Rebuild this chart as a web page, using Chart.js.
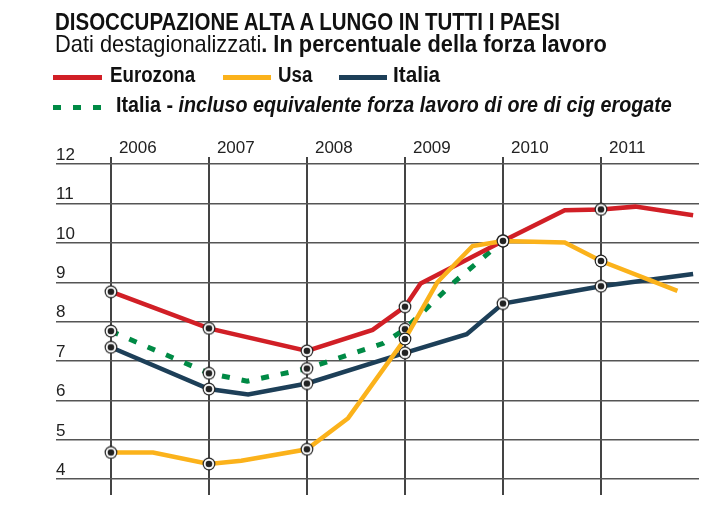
<!DOCTYPE html>
<html>
<head>
<meta charset="utf-8">
<script src="https://cdn.jsdelivr.net/npm/chart.js@4/dist/chart.umd.min.js"></script>
<style>
  body { margin: 0; background: #fff; }
  #wrap { position: relative; width: 723px; height: 517px; overflow: hidden;
          font-family: "Liberation Sans", Arial, sans-serif; color: #111; }
  canvas { position: absolute; left: 0; top: 0; }
  .t { position: absolute; white-space: nowrap; transform-origin: 0 0; line-height: 1; }
  .sw { position: absolute; height: 5px; }
</style>
</head>
<body>
<div id="wrap">
  <canvas id="chart" width="723" height="517"></canvas>
  <div class="t" data-w="505" style="left:55px;top:10px;font-size:24px;font-weight:bold">DISOCCUPAZIONE ALTA A LUNGO IN TUTTI I PAESI</div>
  <div class="t" data-w="552" style="left:55px;top:32px;font-size:24px">Dati destagionalizzati<b>. In percentuale della forza lavoro</b></div>

  <div class="sw" style="left:53px;top:75px;width:49px;background:#d11f26"></div>
  <div class="t" data-w="85" style="left:110px;top:64px;font-size:22px;font-weight:bold">Eurozona</div>
  <div class="sw" style="left:223px;top:75px;width:48px;background:#fbb21b"></div>
  <div class="t" data-w="34" style="left:278px;top:64px;font-size:22px;font-weight:bold">Usa</div>
  <div class="sw" style="left:339px;top:75px;width:48px;background:#1d3f58"></div>
  <div class="t" data-w="47" style="left:393px;top:64px;font-size:22px;font-weight:bold">Italia</div>

  <div class="sw" style="left:53px;top:105px;width:8px;background:#008a45"></div>
  <div class="sw" style="left:73px;top:105px;width:8px;background:#008a45"></div>
  <div class="sw" style="left:93px;top:105px;width:8px;background:#008a45"></div>
  <div class="t" data-w="556" style="left:116px;top:94px;font-size:22px;font-weight:bold">Italia - <i>incluso equivalente forza lavoro di ore di cig erogate</i></div>
</div>

<script>
// header text squeezed to the widths measured on the picture
document.querySelectorAll('.t').forEach(el => {
  const w = +el.dataset.w
  el.style.transform = 'scaleX(' + (w / el.offsetWidth) + ')'
})

const years = [2006, 2007, 2008, 2009, 2010, 2011]
const yTicks = [4, 5, 6, 7, 8, 9, 10, 11, 12]

const eurozonaX = [2006, 2007, 2008, 2008.67, 2009, 2009.16, 2010, 2010.63, 2011, 2011.35, 2011.94]
const eurozonaY = [8.76, 7.83, 7.26, 7.79, 8.38, 8.97, 10.05, 10.83, 10.85, 10.92, 10.7]

const usaX = [2006, 2006.43, 2007, 2007.33, 2008, 2008.42, 2009, 2009.33, 2009.69, 2010, 2010.63, 2011, 2011.78]
const usaY = [4.68, 4.68, 4.39, 4.47, 4.76, 5.55, 7.56, 9.0, 9.92, 10.05, 10.01, 9.54, 8.78]

const italiaX = [2006, 2007, 2007.4, 2008, 2009, 2009.63, 2010, 2011, 2011.94]
const italiaY = [7.35, 6.29, 6.15, 6.43, 7.21, 7.68, 8.46, 8.9, 9.21]

const italiaCigX = [2006, 2007, 2007.39, 2008, 2008.78, 2009, 2009.5, 2010]
const italiaCigY = [7.76, 6.69, 6.49, 6.81, 7.45, 7.81, 9.0, 10.05]

const fontFamily = '"Liberation Sans", Arial, sans-serif'

function pairs(xs, ys) {
  return xs.map((x, i) => ({ x: x, y: ys[i] }))
}

// ringed dot used at each year
function makeMarker() {
  const m = document.createElement('canvas')
  m.width = 14
  m.height = 14
  const g = m.getContext('2d')
  g.beginPath(); g.arc(7, 7, 6.4, 0, Math.PI * 2); g.fillStyle = '#222'; g.fill()
  g.beginPath(); g.arc(7, 7, 5.2, 0, Math.PI * 2); g.fillStyle = '#fff'; g.fill()
  g.beginPath(); g.arc(7, 7, 3.3, 0, Math.PI * 2); g.fillStyle = '#222'; g.fill()
  return m
}
const marker = makeMarker()

function onYear(ctx) {
  return ctx.raw && Number.isInteger(ctx.raw.x) ? 6 : 0
}

function series(label, xs, ys, color, dash) {
  return {
    label: label,
    data: pairs(xs, ys),
    borderColor: color,
    borderWidth: dash ? 5 : 4.5,
    borderDash: dash || [],
    borderCapStyle: 'butt',
    borderJoinStyle: 'miter',
    tension: 0,
    pointStyle: marker,
    pointRadius: onYear,
    pointHoverRadius: onYear
  }
}

const ctx = document.getElementById('chart').getContext('2d')

new Chart(ctx, {
  type: 'line',
  data: {
    datasets: [
      series('Usa', usaX, usaY, '#fbb21b'),
      series('Eurozona', eurozonaX, eurozonaY, '#d11f26'),
      series('Italia - incluso equivalente forza lavoro di ore di cig erogate', italiaCigX, italiaCigY, '#008a45', [8, 12]),
      series('Italia', italiaX, italiaY, '#1d3f58')
    ]
  },
  options: {
    responsive: false,
    animation: false,
    layout: { padding: { left: 0, right: 24, top: 0, bottom: 22 } },
    plugins: {
      legend: { display: false },
      tooltip: { enabled: false }
    },
    scales: {
      x: {
        type: 'linear',
        position: 'top',
        min: 2005.44,
        max: 2012.0,
        afterBuildTicks: s => { s.ticks = years.map(v => ({ value: v })) },
        afterFit: s => { s.height = 157 },
        border: { display: false },
        grid: { color: '#444', lineWidth: 2, drawTicks: false },
        ticks: {
          callback: v => String(v),
          align: 'start',
          labelOffset: 8,
          padding: 0,
          maxRotation: 0,
          color: '#222',
          font: { family: fontFamily, size: 17, lineHeight: 1 }
        }
      },
      y: {
        min: 3.6,
        max: 12.18,
        afterBuildTicks: s => { s.ticks = yTicks.map(v => ({ value: v })) },
        afterFit: s => { s.width = 56 },
        border: { display: false },
        grid: { color: '#555', lineWidth: 1.5, drawTicks: false },
        ticks: {
          mirror: true,
          padding: 0,
          labelOffset: -9,
          color: '#222',
          font: { family: fontFamily, size: 17, lineHeight: 1 }
        }
      }
    }
  }
})
</script>
</body>
</html>
